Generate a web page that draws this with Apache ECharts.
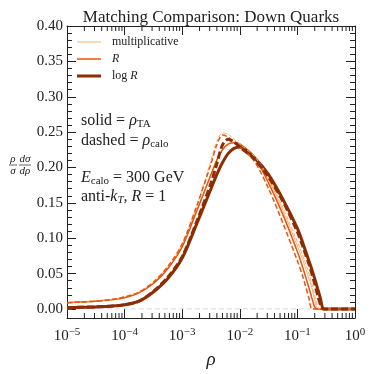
<!DOCTYPE html>
<html>
<head>
<meta charset="utf-8">
<script src="https://cdn.jsdelivr.net/npm/echarts@6/dist/echarts.min.js"></script>
<style>
  html, body { margin: 0; padding: 0; background: #fff; }
  #chart { width: 374px; height: 374px; }
</style>
</head>
<body>
<div id="chart"></div>
<script>
// rho sample points, as log10(rho)
var rhoExp = [-5, -4.75, -4.5, -4.25, -4, -3.75, -3.5, -3.25, -3, -2.75, -2.5, -2.4, -2.3, -2.2, -2.1, -2, -1.75, -1.5, -1.25, -1, -0.9, -0.8, -0.75, -0.7, -0.65, -0.6, -0.55, -0.5, 0]

// rho/sigma dsigma/drho
var multSolid = [0.009, 0.010, 0.011, 0.013, 0.016, 0.023, 0.036, 0.057, 0.088, 0.138, 0.19, 0.211, 0.226, 0.234, 0.236, 0.234, 0.217, 0.183, 0.139, 0.089, 0.068, 0.043, 0.030, 0.013, 0, 0, 0, 0, 0]
var multDashed = [0.009, 0.010, 0.011, 0.013, 0.017, 0.024, 0.038, 0.06, 0.092, 0.145, 0.21, 0.237, 0.249, 0.247, 0.24, 0.233, 0.216, 0.186, 0.143, 0.095, 0.074, 0.05, 0.036, 0.02, 0.003, 0, 0, 0, 0]
var rSolid = [0.009, 0.010, 0.011, 0.013, 0.016, 0.023, 0.036, 0.057, 0.088, 0.138, 0.19, 0.21, 0.225, 0.233, 0.235, 0.233, 0.215, 0.178, 0.133, 0.081, 0.057, 0.030, 0.016, 0.003, 0, 0, 0, 0, 0]
var rDashed = [0.009, 0.010, 0.011, 0.013, 0.017, 0.024, 0.038, 0.06, 0.092, 0.145, 0.205, 0.232, 0.246, 0.243, 0.236, 0.229, 0.209, 0.17, 0.121, 0.068, 0.044, 0.015, 0, 0, 0, 0, 0, 0, 0]
var logSolid = [0.002, 0.0025, 0.003, 0.004, 0.006, 0.011, 0.024, 0.043, 0.072, 0.12, 0.17, 0.19, 0.207, 0.22, 0.227, 0.229, 0.214, 0.19, 0.155, 0.114, 0.092, 0.068, 0.056, 0.043, 0.029, 0.015, 0, 0, 0]
var logDashed = [0.002, 0.0025, 0.003, 0.004, 0.006, 0.011, 0.025, 0.045, 0.074, 0.123, 0.178, 0.205, 0.232, 0.240, 0.236, 0.229, 0.212, 0.186, 0.152, 0.109, 0.087, 0.0635, 0.05, 0.036, 0.02, 0.006, 0, 0, 0]

// minor log ticks: 2..9 in each decade
var minorMult = [2, 3, 4, 5, 6, 7, 8, 9]
var decades = [-5, -4, -3, -2, -1]

var cLight = '#fdae6b'
var cMid = '#e6550d'
var cDark = '#8c2d04'
var serif = 'Liberation Serif'
var ink = '#222'

var yBottom = -0.0184

function pairs(vals) {
  var out = []
  for (var i = 0; i < rhoExp.length; i++) {
    out.push([Math.pow(10, rhoExp[i]), vals[i]])
  }
  return out
}

function curve(name, vals, color, width, dash) {
  return {
    name: name,
    type: 'line',
    xAxisIndex: 0,
    yAxisIndex: 0,
    data: pairs(vals),
    showSymbol: false,
    smooth: 0.3,
    clip: false,
    lineStyle: { color: color, width: width, type: dash || 'solid' },
    emphasis: { disabled: true }
  }
}

var minorData = []
for (var d = 0; d < decades.length; d++) {
  for (var k = 0; k < minorMult.length; k++) {
    minorData.push([minorMult[k] * Math.pow(10, decades[d])])
  }
}

function richSub(text, size) {
  return {
    text: text, verticalAlign: 'middle',
    rich: {
      n: { fontFamily: serif, fontSize: size, fill: ink },
      i: { fontFamily: serif, fontSize: size, fontStyle: 'italic', fill: ink },
      s: { fontFamily: serif, fontSize: 11, fill: ink, verticalAlign: 'bottom', padding: [6, 0, 0, 0] },
      si: { fontFamily: serif, fontSize: 11, fontStyle: 'italic', fill: ink, verticalAlign: 'bottom', padding: [6, 0, 0, 0] }
    }
  }
}

var chartDom = document.getElementById('chart')
var myChart = echarts.init(chartDom)

var tickLabel = function(v) {
  var e = Math.round(Math.log(v) / Math.LN10)
  return '10{sup|' + (e < 0 ? '\u2212' + (-e) : e) + '}'
}

var option = {
  animation: false,
  grid: [
    { left: 67, right: 19, top: 26, bottom: 65 },
    { left: 67, right: 19, top: 26, bottom: 52 }
  ],
  title: {
    text: 'Matching Comparison: Down Quarks',
    left: 206,
    top: 4,
    textAlign: 'center',
    textStyle: { fontFamily: serif, fontWeight: 'normal', fontSize: 17, color: ink }
  },
  xAxis: [
    { type: 'log', gridIndex: 0, min: 1e-5, max: 1, show: false },
    {
      type: 'log', gridIndex: 1, min: 1e-5, max: 1, position: 'bottom',
      axisLine: { onZero: false, lineStyle: { color: ink, width: 1 } },
      axisTick: { inside: true, length: 9, lineStyle: { color: ink } },
      splitLine: { show: false },
      axisLabel: {
        margin: 9,
        formatter: tickLabel,
        fontFamily: serif, fontSize: 15, color: ink,
        rich: { sup: { fontFamily: serif, fontSize: 11, color: ink, verticalAlign: 'top', padding: [0, 0, 8, 0] } }
      },
      name: 'ρ',
      nameLocation: 'middle',
      nameGap: 32,
      nameTextStyle: { fontFamily: serif, fontStyle: 'italic', fontSize: 19, color: ink }
    },
    {
      type: 'log', gridIndex: 1, min: 1e-5, max: 1, position: 'top',
      axisLine: { onZero: false, lineStyle: { color: ink, width: 1 } },
      axisTick: { inside: true, length: 9, lineStyle: { color: ink } },
      axisLabel: { show: false },
      splitLine: { show: false }
    }
  ],
  yAxis: [
    {
      type: 'value', gridIndex: 0, min: 0, max: 0.4, interval: 0.05, position: 'left',
      axisLine: { show: false, onZero: false },
      axisTick: { inside: true, length: 9, lineStyle: { color: ink } },
      minorTick: { show: true, splitNumber: 5, length: 5, lineStyle: { color: ink } },
      splitLine: { show: false },
      axisLabel: {
        margin: 4,
        formatter: function(v) { return v.toFixed(2) },
        fontFamily: serif, fontSize: 15, color: ink
      }
    },
    {
      type: 'value', gridIndex: 0, min: 0, max: 0.4, interval: 0.05, position: 'right',
      axisLine: { show: false, onZero: false },
      axisTick: { inside: true, length: 9, lineStyle: { color: ink } },
      minorTick: { show: true, splitNumber: 5, length: 5, lineStyle: { color: ink } },
      splitLine: { show: false },
      axisLabel: { show: false }
    },
    {
      type: 'value', gridIndex: 1, min: yBottom, max: 0.4, position: 'left',
      axisLine: { show: true, onZero: false, lineStyle: { color: ink, width: 1 } },
      axisTick: { show: false }, axisLabel: { show: false }, splitLine: { show: false }
    },
    {
      type: 'value', gridIndex: 1, min: yBottom, max: 0.4, position: 'right',
      axisLine: { show: true, onZero: false, lineStyle: { color: ink, width: 1 } },
      axisTick: { show: false }, axisLabel: { show: false }, splitLine: { show: false }
    }
  ],
  series: [
    {
      type: 'line', xAxisIndex: 0, yAxisIndex: 0, showSymbol: false,
      data: [[1e-5, 0], [1, 0]],
      lineStyle: { color: '#cccccc', width: 1, type: [5, 3] },
      emphasis: { disabled: true }
    },
    curve('multiplicative', multSolid, cLight, 1),
    curve('R', rSolid, cMid, 1.5),
    curve('log R', logSolid, cDark, 3),
    curve('multiplicative dashed', multDashed, cLight, 1, [4, 2]),
    curve('R dashed', rDashed, cMid, 1.5, [5, 2.5]),
    curve('log R dashed', logDashed, cDark, 3, [7, 3]),
    {
      // minor log ticks on bottom and top, placed through the axis scale
      type: 'custom',
      xAxisIndex: 1,
      yAxisIndex: 2,
      silent: true,
      clip: false,
      data: minorData,
      encode: { x: 0 },
      renderItem: function(params, api) {
        var bot = api.coord([api.value(0), yBottom])
        var top = api.coord([api.value(0), 0.4])
        return {
          type: 'group',
          children: [
            { type: 'line', shape: { x1: bot[0], y1: bot[1], x2: bot[0], y2: bot[1] - 5 }, style: { stroke: ink, lineWidth: 1 } },
            { type: 'line', shape: { x1: top[0], y1: top[1], x2: top[0], y2: top[1] + 5 }, style: { stroke: ink, lineWidth: 1 } }
          ]
        }
      }
    }
  ],
  graphic: [
    { type: 'line', shape: { x1: 77, y1: 42, x2: 101, y2: 42 }, style: { stroke: cLight, lineWidth: 1 } },
    { type: 'line', shape: { x1: 77, y1: 59, x2: 101, y2: 59 }, style: { stroke: cMid, lineWidth: 1.5 } },
    { type: 'line', shape: { x1: 77, y1: 76, x2: 101, y2: 76 }, style: { stroke: cDark, lineWidth: 3 } },
    { type: 'text', x: 112, y: 42, style: { text: 'multiplicative', font: '12px "Liberation Serif"', fill: ink, verticalAlign: 'middle' } },
    { type: 'text', x: 112, y: 59, style: { text: 'R', font: 'italic 12px "Liberation Serif"', fill: ink, verticalAlign: 'middle' } },
    { type: 'text', x: 112, y: 76, style: richSub('{n|log }{i|R}', 12) },
    { type: 'text', x: 81, y: 121, style: richSub('{n|solid = }{i|ρ}{s|TA}', 16) },
    { type: 'text', x: 81, y: 141, style: richSub('{n|dashed = }{i|ρ}{s|calo}', 16) },
    { type: 'text', x: 81, y: 178, style: richSub('{i|E}{s|calo}{n| = 300 GeV}', 16) },
    { type: 'text', x: 81, y: 197, style: richSub('{n|anti-}{i|k}{si|T}{n|, }{i|R}{n| = 1}', 16) },
    // y axis label as a fraction
    { type: 'text', x: 13, y: 159, style: { text: 'ρ', font: 'italic 11px "Liberation Serif"', fill: ink, align: 'center', verticalAlign: 'middle' } },
    { type: 'text', x: 13, y: 171, style: { text: 'σ', font: 'italic 11px "Liberation Serif"', fill: ink, align: 'center', verticalAlign: 'middle' } },
    { type: 'line', shape: { x1: 9, y1: 165, x2: 17, y2: 165 }, style: { stroke: ink, lineWidth: 0.7 } },
    { type: 'text', x: 25, y: 159, style: { text: 'dσ', font: 'italic 11px "Liberation Serif"', fill: ink, align: 'center', verticalAlign: 'middle' } },
    { type: 'text', x: 25, y: 171, style: { text: 'dρ', font: 'italic 11px "Liberation Serif"', fill: ink, align: 'center', verticalAlign: 'middle' } },
    { type: 'line', shape: { x1: 19, y1: 165, x2: 31, y2: 165 }, style: { stroke: ink, lineWidth: 0.7 } }
  ]
}

myChart.setOption(option)
</script>
</body>
</html>
